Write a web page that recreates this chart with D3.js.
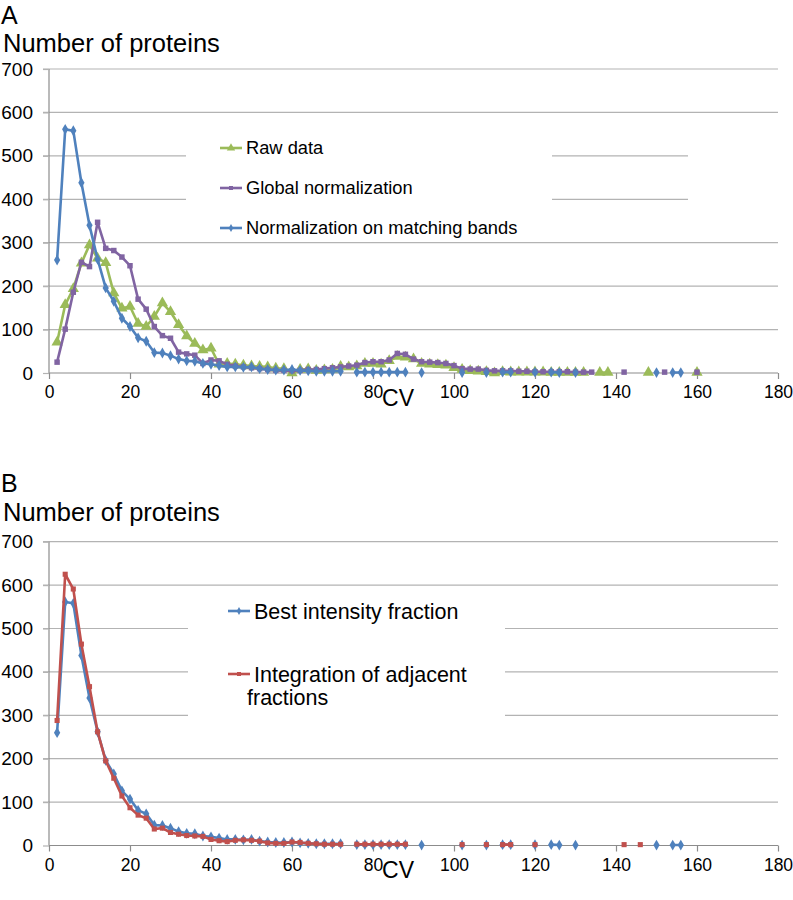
<!DOCTYPE html>
<html lang="en">
<head>
<meta charset="UTF-8" />
<title>CV distribution</title>
<style>
  body { margin: 0; background: #fff; }
  text { font-family: "Liberation Sans", Arial, sans-serif; fill: #000; }
</style>
</head>
<body>
<svg width="793" height="900" id="svg"></svg>
<script src="https://cdn.jsdelivr.net/npm/d3@7/dist/d3.min.js"></script>
<script>
// CV categories (2, 4, ... 160)
const cv = d3.range(2, 162, 2)
const xTicks = [0, 20, 40, 60, 80, 100, 120, 140, 160, 180]
const yTicks = [0, 100, 200, 300, 400, 500, 600, 700]

// panel A
const rawData = [
  71, 157, 194, 253, 295, 264, 254, 184, 149, 153,
  114, 107, 130, 161, 141, 111, 85, 68, 53, 57,
  20, 22, 20, 18, 16, 15, 14, 11, 10, 0,
  8, 9, 6, 7, 8, 15, 14, 16, 22, 22,
  20, 28, 38, 36, 32, 22, 20, 19, 18, 12,
  8, 5, 4, 3, 0, 3, 2, 2, 2, 2,
  2, 1, 1, 1, 1, 1, null, 1, 1, null,
  null, null, null, 1, null, null, null, null, null, 1
]
const globalNorm = [
  25, 101, 186, 255, 245, 347, 287, 282, 267, 247,
  170, 147, 107, 86, 80, 48, 44, 41, 22, 30,
  28, 20, 16, 14, 12, 10, 8, 6, 6, 5,
  6, 8, 8, 10, 12, 14, 16, 18, 24, 26,
  26, 30, 45, 43, 32, 26, 25, 24, 22, 17,
  10, 9, 9, 6, 5, 5, 5, 4, 4, 3,
  3, 3, 3, 3, 2, 2, 2, null, null, null,
  2, null, null, null, null, 2, null, null, null, 2
]
// same series in both panels (matching bands = best intensity fraction)
const bestFraction = [
  260, 561, 558, 438, 340, 262, 196, 165, 126, 107,
  81, 73, 47, 46, 40, 32, 28, 27, 22, 20,
  17, 14, 14, 13, 14, 10, 8, 7, 7, 8,
  6, 5, 4, 4, 4, 4, null, 2, 2, 2,
  2, 2, 2, 2, null, 1, null, null, null, null,
  1, null, null, 1, null, 2, 2, null, null, 2,
  null, 2, 1, null, 1, null, null, null, null, null,
  null, null, null, null, 1, null, 1, 1, null, null
]
// panel B
const adjacent = [
  288, 625, 591, 464, 366, 262, 195, 155, 114, 87,
  70, 63, 38, 40, 30, 26, 23, 22, 21, 14,
  11, 9, 12, 13, 12, 10, 6, 5, 5, 8,
  7, 5, 4, 3, 3, 3, null, 3, 3, 3,
  3, 3, 3, 3, null, null, null, null, null, null,
  2, null, null, 2, null, 2, 2, null, null, 2,
  null, null, null, null, null, null, null, null, null, null,
  2, null, 2, null, null, null, null, null, null, null
]

const svg = d3.select("#svg")
const x = d3.scaleLinear().domain([0, 180]).range([49, 778])

const green = "#9bbb59", purple = "#8064a2", blue = "#4f81bd", red = "#c0504d"

const sym = {
  triangle: d3.symbolTriangle,
  square: d3.symbolSquare,
  diamond: d3.symbolDiamond
}

function drawPanel(p) {
  const y = d3.scaleLinear().domain([0, 700]).range([p.bottom, p.top])
  const g = svg.append("g")

  g.append("text").attr("x", 1).attr("y", p.letterY)
    .attr("font-size", 25).text(p.letter)
  g.append("text").attr("x", 3).attr("y", p.titleY)
    .attr("font-size", 25.5).text("Number of proteins")

  // gridlines, some broken by the legend box
  yTicks.filter(d => d > 0).forEach(d => {
    const segs = p.gaps[d] || [[43, 778]]
    segs.forEach(s => {
      g.append("line")
        .attr("x1", s[0]).attr("x2", s[1])
        .attr("y1", y(d)).attr("y2", y(d))
        .attr("stroke", "#b3b3b3").attr("stroke-width", 1.2)
    })
  })

  const yAxis = g.append("g")
    .attr("transform", `translate(${x(0)},0)`)
    .call(d3.axisLeft(y).tickValues(yTicks).tickSize(6).tickPadding(10))
  yAxis.selectAll("line").attr("stroke", "#b3b3b3").attr("stroke-width", 1.2)
  yAxis.select(".domain").attr("stroke", "#8c8c8c").attr("stroke-width", 1.2)
    .attr("d", `M0,${p.bottom}V${p.top}`)
  yAxis.selectAll("text").attr("font-size", 19)
    .attr("font-family", "Liberation Sans, Arial, sans-serif").attr("fill", "#000")

  const xAxis = g.append("g")
    .attr("transform", `translate(0,${p.bottom})`)
    .call(d3.axisBottom(x).tickValues(xTicks).tickSize(6).tickPadding(7))
  xAxis.selectAll("line").attr("stroke", "#8c8c8c").attr("stroke-width", 1.2)
  xAxis.select(".domain").attr("stroke", "#8c8c8c").attr("stroke-width", 1.2)
    .attr("d", `M${x(0)},0H${x(180)}`)
  xAxis.selectAll("text").attr("font-size", 17.5)
    .attr("font-family", "Liberation Sans, Arial, sans-serif").attr("fill", "#000")

  g.append("text").attr("x", 398).attr("y", p.cvY)
    .attr("text-anchor", "middle").attr("font-size", 23).text("CV")

  const line = d3.line()
    .defined(d => d.v !== null)
    .x(d => x(d.cv))
    .y(d => y(d.v))

  p.series.forEach(s => {
    const pts = cv.map((c, i) => ({ cv: c, v: s.values[i] }))
    const sg = g.append("g")
    sg.append("path").datum(pts)
      .attr("d", line)
      .attr("fill", "none")
      .attr("stroke", s.color)
      .attr("stroke-width", 2.6)
      .attr("stroke-linejoin", "round")
    sg.selectAll("path.m")
      .data(pts.filter(d => d.v !== null))
      .join("path")
      .attr("class", "m")
      .attr("transform", d => `translate(${x(d.cv)},${y(d.v)})`)
      .attr("d", d3.symbol(sym[s.shape], s.size))
      .attr("fill", s.color)
  })

  // legend
  p.legend.forEach(l => {
    const lg = g.append("g")
    lg.append("line")
      .attr("x1", l.mx - 11).attr("x2", l.mx + 11)
      .attr("y1", l.y).attr("y2", l.y)
      .attr("stroke", l.color).attr("stroke-width", 2.6)
    lg.append("path")
      .attr("transform", `translate(${l.mx},${l.y})`)
      .attr("d", d3.symbol(sym[l.shape], l.size))
      .attr("fill", l.color)
    l.lines.forEach((t, i) => {
      lg.append("text")
        .attr("x", l.tx[i]).attr("y", l.y + i * 23)
        .attr("dy", "0.35em")
        .attr("font-size", p.legendSize)
        .text(t)
    })
  })
}

drawPanel({
  letter: "A", letterY: 24, titleY: 52, top: 69, bottom: 373, cvY: 406,
  legendSize: 18.3,
  gaps: { 500: [[43, 186], [552, 688]], 400: [[43, 186], [552, 688]] },
  series: [
    { values: rawData, color: green, shape: "triangle", size: 55 },
    { values: globalNorm, color: purple, shape: "square", size: 30 },
    { values: bestFraction, color: blue, shape: "diamond", size: 34 }
  ],
  legend: [
    { y: 148, mx: 231, tx: [246], color: green, shape: "triangle", size: 30, lines: ["Raw data"] },
    { y: 188, mx: 231, tx: [246], color: purple, shape: "square", size: 16, lines: ["Global normalization"] },
    { y: 228, mx: 231, tx: [246], color: blue, shape: "diamond", size: 18, lines: ["Normalization on matching bands"] }
  ]
})

drawPanel({
  letter: "B", letterY: 492, titleY: 521, top: 541.7, bottom: 845.5, cvY: 878,
  legendSize: 21.5,
  gaps: { 500: [[43, 188], [505, 778]], 400: [[43, 188], [505, 778]], 300: [[43, 188], [505, 778]] },
  series: [
    { values: bestFraction, color: blue, shape: "diamond", size: 34 },
    { values: adjacent, color: red, shape: "square", size: 26 }
  ],
  legend: [
    { y: 611, mx: 239, tx: [254], color: blue, shape: "diamond", size: 18, lines: ["Best intensity fraction"] },
    { y: 674, mx: 239, tx: [254, 247], color: red, shape: "square", size: 16, lines: ["Integration of adjacent", "fractions"] }
  ]
})
</script>
</body>
</html>
